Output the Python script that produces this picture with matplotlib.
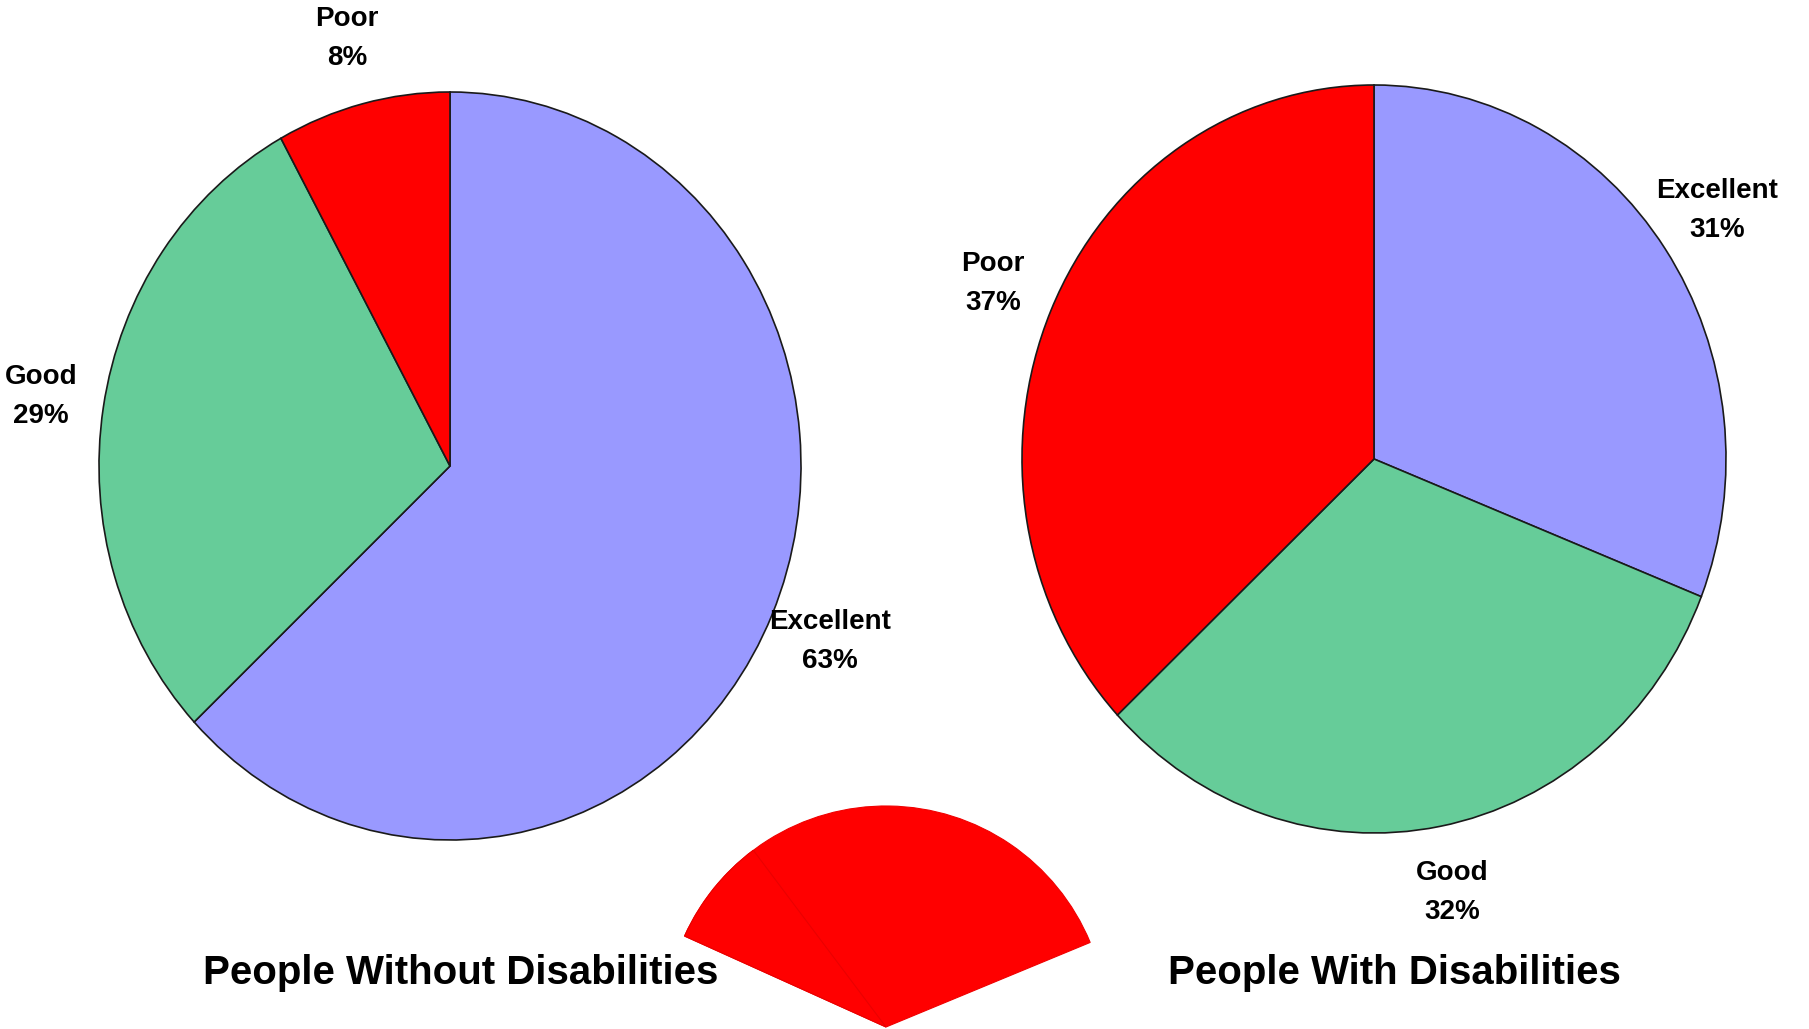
import numpy as np
import matplotlib.pyplot as plt
from matplotlib.patches import Wedge

W, H = 1809, 1029

categories = ['Excellent', 'Good', 'Poor']
without_pct = [63, 29, 8]
with_pct = [31, 32, 37]
colors = ['#9999ff', '#66cc99', '#ff0000']

plt.rcParams['font.family'] = ['Liberation Sans', 'DejaVu Sans']


def pie_axes(fig, cx, cy, rx, ry):
    # box around the ellipse, given in pixels from the top-left corner
    return fig.add_axes([(cx - rx) / W, 1 - (cy + ry) / H, 2 * rx / W, 2 * ry / H])


def draw_pie(ax, values, label_r=1.18):
    wedges, _ = ax.pie(values, colors=colors, startangle=90, counterclock=False,
                       radius=1, wedgeprops=dict(edgecolor='#1a1a1a', linewidth=1.2))
    ax.set_aspect('auto')
    ax.set_xlim(-1, 1)
    ax.set_ylim(-1, 1)
    for w, name, v in zip(wedges, categories, values):
        mid = np.deg2rad((w.theta1 + w.theta2) / 2)
        ax.text(label_r * np.cos(mid), label_r * np.sin(mid), '{}\n{}%'.format(name, v),
                ha='center', va='center', fontsize=20, fontweight='bold',
                linespacing=1.65, clip_on=False)
    return wedges


fig = plt.figure(figsize=(W / 100, H / 100), dpi=100)

ax1 = pie_axes(fig, 450, 466, 351, 374)
draw_pie(ax1, without_pct)

ax2 = pie_axes(fig, 1374, 459, 352, 374)
draw_pie(ax2, with_pct)

# loose red slice sitting between the two titles
ax3 = fig.add_axes([0, 0, 1, 1], zorder=-1)
ax3.set_xlim(0, W)
ax3.set_ylim(0, H)
ax3.axis('off')
start = 22.5
span = with_pct[2] * 3.6
ax3.add_patch(Wedge((886, 2), 221, start, start + span, facecolor='#ff0000',
                    edgecolor='#f00000', linewidth=0.8))
ax3.add_patch(Wedge((886, 2), 221, start + span - without_pct[2] * 3.6, start + span,
                    facecolor='#ff0000', edgecolor='#ea0000', linewidth=0.8))

fig.text(461 / W, 1 - 973 / H, 'People Without Disabilities', ha='center', va='center',
         fontsize=29, fontweight='bold')
fig.text(1394 / W, 1 - 973 / H, 'People With Disabilities', ha='center', va='center',
         fontsize=29, fontweight='bold')

fig.savefig('out.png', dpi=100, facecolor='white')
